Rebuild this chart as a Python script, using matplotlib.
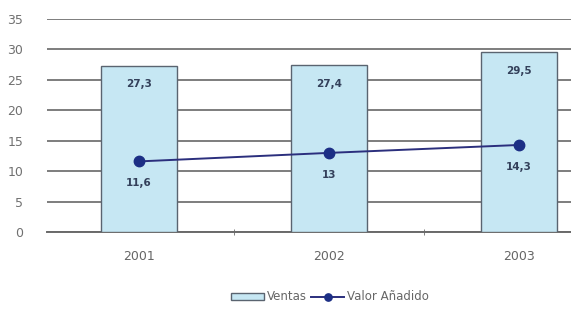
import matplotlib
matplotlib.use('Agg')
import matplotlib.pyplot as plt
import numpy as np

plt.rcParams['font.family'] = ['DejaVu Sans']

anios = ['2001', '2002', '2003']
ventas = [27.3, 27.4, 29.5]
valor_anadido = [11.6, 13.0, 14.3]
etiquetas_ventas = ['27,3', '27,4', '29,5']
etiquetas_valor = ['11,6', '13', '14,3']

fig = plt.figure(figsize=(5.71, 3.09), dpi=100)
izq = 47
ax = fig.add_axes([izq / 571, 77 / 309, (571 - izq) / 571, 213 / 309])

x = np.arange(len(anios))
barras = ax.bar(x, ventas, width=0.4, color='#c6e7f3', edgecolor='#5a6470',
                linewidth=1.0, label='Ventas', zorder=3)
linea, = ax.plot(x, valor_anadido, color='#2b2f7d', linewidth=1.4, marker='o',
                 markersize=7.5, markerfacecolor='#1c2f85', markeredgecolor='#1c2f85',
                 label='Valor Añadido', zorder=4)

for xi, v, t in zip(x, ventas, etiquetas_ventas):
    ax.text(xi, v - 3.0, t, ha='center', va='center', fontsize=7.5,
            fontweight='bold', color='#33405a', zorder=5)
for xi, v, t in zip(x, valor_anadido, etiquetas_valor):
    ax.text(xi, v - 3.6, t, ha='center', va='center', fontsize=7.5,
            fontweight='bold', color='#33405a', zorder=5)

ax.set_ylim(0, 35)
ax.set_xlim(-0.5 + (izq - 44) / 190, -0.5 + (571 - 44) / 190)
ax.set_yticks(np.arange(0, 36, 5))
ax.yaxis.grid(True, color='#7d7d7d', linewidth=1.4, zorder=0)
ax.set_axisbelow(True)

for s in ['top', 'right', 'left']:
    ax.spines[s].set_visible(False)
ax.spines['bottom'].set_color('#6a6a6a')
ax.spines['bottom'].set_linewidth(1.4)

ax.set_xticks(x)
ax.set_xticklabels(anios)
ax.set_xticks([0.5, 1.5], minor=True)
ax.tick_params(axis='x', which='major', length=0, pad=13, labelsize=9, labelcolor='#666666')
ax.tick_params(axis='x', which='minor', length=5, direction='inout', color='#6a6a6a')
ax.tick_params(axis='y', length=0, pad=17, labelsize=9, labelcolor='#707070')

fig.legend(handles=[barras, linea], labels=['Ventas', 'Valor Añadido'],
           loc='center', bbox_to_anchor=(330 / 571, 1 - 297 / 309), ncol=2,
           frameon=False, fontsize=8.5, labelcolor='#666666', handlelength=2.8,
           handleheight=0.5, columnspacing=0.4, handletextpad=0.2,
           markerscale=0.7)

fig.savefig('out.png', dpi=100)
